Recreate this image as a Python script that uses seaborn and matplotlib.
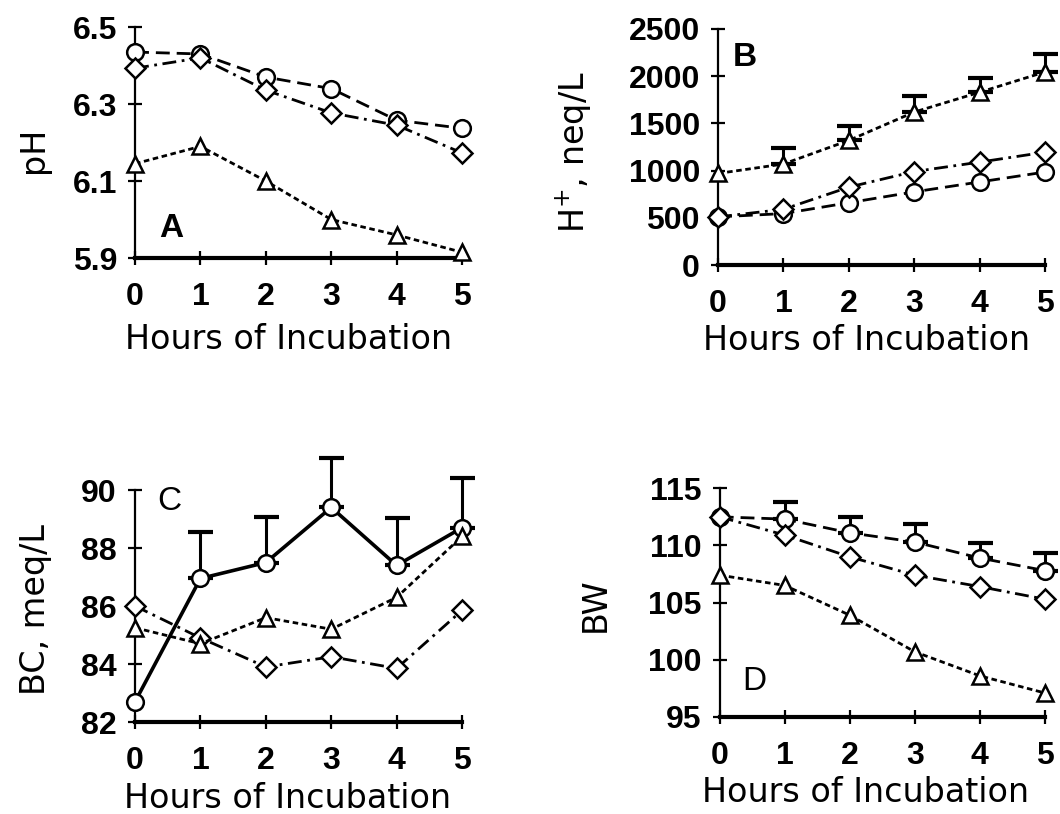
import matplotlib
matplotlib.use("Agg")
import matplotlib.pyplot as plt
import numpy as np
import pandas as pd
import seaborn as sns

# ---- data -------------------------------------------------------------
hours = [0, 1, 2, 3, 4, 5]

ph_circle = [6.435, 6.43, 6.37, 6.34, 6.258, 6.237]
ph_diamond = [6.393, 6.42, 6.336, 6.277, 6.245, 6.173]
ph_triangle = [6.145, 6.19, 6.10, 6.00, 5.96, 5.915]

h_circle = [510, 545, 660, 775, 880, 985]
h_diamond = [510, 590, 825, 990, 1090, 1195]
h_triangle = [970, 1070, 1320, 1620, 1830, 2045]
h_triangle_err = [0, 170, 150, 170, 150, 195]

bc_circle = [82.7, 86.95, 87.5, 89.4, 87.4, 88.7]
bc_circle_err = [0, 1.6, 1.57, 1.7, 1.63, 1.7]
bc_diamond = [86.0, 84.9, 83.9, 84.25, 83.85, 85.85]
bc_triangle = [85.25, 84.7, 85.6, 85.2, 86.3, 88.4]

bw_circle = [112.5, 112.3, 111.1, 110.3, 108.9, 107.8]
bw_circle_err = [0, 1.5, 1.4, 1.6, 1.3, 1.5]
bw_diamond = [112.5, 110.9, 109.0, 107.4, 106.4, 105.3]
bw_triangle = [107.4, 106.5, 103.9, 100.7, 98.6, 97.1]

ph_ticks = [5.9, 6.1, 6.3, 6.5]
h_ticks = [0, 500, 1000, 1500, 2000, 2500]
bc_ticks = [82, 84, 86, 88, 90]
bw_ticks = [95, 100, 105, 110, 115]

x_label = "Hours of Incubation"

# ---- style ------------------------------------------------------------
sns.set_theme(style="white")
plt.rcParams["font.family"] = ["DejaVu Sans"]
plt.rcParams["text.color"] = "black"
plt.rcParams["axes.labelcolor"] = "black"
plt.rcParams["xtick.color"] = "black"
plt.rcParams["ytick.color"] = "black"

TICK_FONT = dict(family="Liberation Sans", weight="bold", size=23)
LABEL_FONT = dict(family="DejaVu Sans", size=24, color="black")

markers = {"circle": "o", "diamond": "D", "triangle": "^"}
marker_sizes = {"circle": 12, "diamond": 10, "triangle": 12}

fig = plt.figure(figsize=(10.6, 8.14), dpi=100)
fig.patch.set_facecolor("white")

panels = [
    dict(rect=[0.1274, 0.683, 0.3085, 0.2838],
         series={"circle": ph_circle, "diamond": ph_diamond, "triangle": ph_triangle},
         err={}, ticks=ph_ticks, fmt="{:.1f}", ylabel="pH",
         ylab_xy=(-0.26, 0.467), xlab_xy=(0.468, -0.28),
         letter="A", letter_xy=(0.075, 0.13), letter_weight="bold",
         dashes={"circle": (5, 2.5), "diamond": (5, 2, 1, 2), "triangle": (2, 1.3)}),
    dict(rect=[0.6774, 0.6744, 0.3085, 0.29],
         series={"circle": h_circle, "diamond": h_diamond, "triangle": h_triangle},
         err={"triangle": h_triangle_err}, ticks=h_ticks, fmt="{:d}",
         ylabel="H$^{+}$, neq/L",
         ylab_xy=(-0.379, 0.479), xlab_xy=(0.453, -0.25),
         letter="B", letter_xy=(0.046, 0.88), letter_weight="bold",
         dashes={"circle": (5, 2.5), "diamond": (5, 2, 1, 2), "triangle": (2, 1.3)}),
    dict(rect=[0.1274, 0.113, 0.3085, 0.285],
         series={"circle": bc_circle, "diamond": bc_diamond, "triangle": bc_triangle},
         err={"circle": bc_circle_err}, ticks=bc_ticks, fmt="{:d}",
         ylabel="BC, meq/L",
         ylab_xy=(-0.254, 0.483), xlab_xy=(0.465, -0.26),
         letter="C", letter_xy=(0.067, 0.95), letter_weight="normal",
         dashes={"circle": "", "diamond": (5, 2, 1, 2), "triangle": (2, 1.3)}),
    dict(rect=[0.679, 0.1192, 0.3066, 0.281],
         series={"circle": bw_circle, "diamond": bw_diamond, "triangle": bw_triangle},
         err={"circle": bw_circle_err}, ticks=bw_ticks, fmt="{:d}",
         ylabel="BW",
         ylab_xy=(-0.332, 0.489), xlab_xy=(0.449, -0.26),
         letter="D", letter_xy=(0.068, 0.157), letter_weight="normal",
         dashes={"circle": (5, 2.5), "diamond": (5, 2, 1, 2), "triangle": (2, 1.3)}),
]

for p in panels:
    ax = fig.add_axes(p["rect"])
    ax.set_facecolor("white")

    rows = []
    for name, vals in p["series"].items():
        for h, v in zip(hours, vals):
            rows.append({"hour": h, "value": v, "series": name})
    df = pd.DataFrame(rows)

    # one-sided (upper) error bars, drawn beneath the markers
    for name, errs in p["err"].items():
        vals = np.asarray(p["series"][name], dtype=float)
        errs = np.asarray(errs, dtype=float)
        keep = errs > 0
        ax.errorbar(np.asarray(hours)[keep], vals[keep],
                    yerr=[np.zeros(keep.sum()), errs[keep]],
                    fmt="none", ecolor="black", elinewidth=2.2,
                    capsize=9, capthick=3, zorder=2, clip_on=False)

    for name in p["series"]:
        sub = df[df["series"] == name]
        heavy = name == "circle" and p["letter"] == "C"
        sns.lineplot(data=sub, x="hour", y="value", ax=ax,
                     color="black", linewidth=2.6 if heavy else 2.0,
                     marker=markers[name], markersize=marker_sizes[name],
                     markerfacecolor="white", markeredgecolor="black",
                     markeredgewidth=1.8, dashes=False, errorbar=None,
                     legend=False, clip_on=False, zorder=3)
        line = ax.get_lines()[-1]
        d = p["dashes"][name]
        if d == "":
            line.set_linestyle("-")
        else:
            line.set_dashes(d)

    ax.set_xlim(0, 5)
    ax.set_ylim(p["ticks"][0], p["ticks"][-1])
    ax.set_xticks(hours)
    ax.set_xticklabels([str(h) for h in hours], fontdict=TICK_FONT)
    ax.set_yticks(p["ticks"])
    ax.set_yticklabels([p["fmt"].format(t) for t in p["ticks"]], fontdict=TICK_FONT)

    for side in ("top", "right"):
        ax.spines[side].set_visible(False)
    ax.spines["left"].set_linewidth(1.6)
    ax.spines["left"].set_color("black")
    ax.spines["bottom"].set_linewidth(3.0)
    ax.spines["bottom"].set_color("black")
    ax.tick_params(axis="both", direction="inout", length=10, width=1.6,
                   colors="black", left=True, bottom=True)
    ax.tick_params(axis="x", pad=12)
    ax.tick_params(axis="y", pad=8)

    ax.set_xlabel(x_label, **LABEL_FONT)
    ax.xaxis.set_label_coords(*p["xlab_xy"])
    ax.set_ylabel(p["ylabel"], **LABEL_FONT)
    ax.yaxis.set_label_coords(*p["ylab_xy"])

    ax.text(p["letter_xy"][0], p["letter_xy"][1], p["letter"],
            transform=ax.transAxes, ha="left", va="center",
            fontsize=24, fontweight=p["letter_weight"],
            family="Liberation Sans", color="black")

fig.savefig("out.png", dpi=100, facecolor="white")
